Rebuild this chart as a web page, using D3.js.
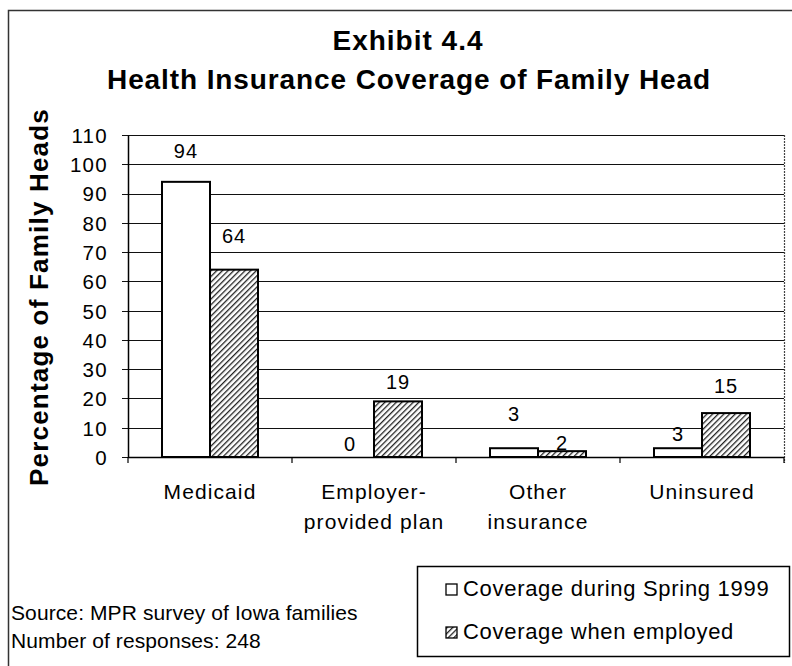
<!DOCTYPE html>
<html>
<head>
<meta charset="utf-8">
<script src="https://cdn.jsdelivr.net/npm/d3@7"></script>
<style>
  html, body { margin: 0; padding: 0; background: #fff; }
  svg { display: block; }
  text { font-family: "Liberation Sans", Arial, Helvetica, sans-serif; fill: #000; }
</style>
</head>
<body>
<svg id="chart" width="792" height="666"></svg>
<script>
// Health insurance coverage of family heads, Iowa families survey
const categories = [["Medicaid"], ["Employer-", "provided plan"], ["Other", "insurance"], ["Uninsured"]];
const seriesNames = ["Coverage during Spring 1999", "Coverage when employed"];
const spring1999 = [94, 0, 3, 3];
const whenEmployed = [64, 19, 2, 15];
const yTicks = [0, 10, 20, 30, 40, 50, 60, 70, 80, 90, 100, 110];
const titleLines = ["Exhibit 4.4", "Health Insurance Coverage of Family Head"];
const yTitle = "Percentage of Family Heads";
const noteLines = ["Source: MPR survey of Iowa families", "Number of responses: 248"];

// how far each value label sits above its bar top (px), per series
const labelLift = [[24, 6, 27, 7], [27, 12, 1, 20]];

const svg = d3.select("#chart");
const W = 792, H = 666;
const plot = { left: 128, right: 784, top: 135, bottom: 457 };

// hatch fill used for the "when employed" series
const defs = svg.append("defs");
const pat = defs.append("pattern")
  .attr("id", "hatch")
  .attr("patternUnits", "userSpaceOnUse")
  .attr("width", 4).attr("height", 4)
  .attr("patternTransform", "rotate(45)");
pat.append("rect").attr("width", 4).attr("height", 4).attr("fill", "#fff");
pat.append("rect").attr("x", 0).attr("y", 0).attr("width", 1.3).attr("height", 4).attr("fill", "#222");

// outer frame (left and top edges)
svg.append("path")
  .attr("d", `M8.5,${H} L8.5,10.5 L${W},10.5`)
  .attr("fill", "none").attr("stroke", "#333").attr("stroke-width", 1.5);

// titles
svg.append("text").attr("x", 408).attr("y", 50).attr("text-anchor", "middle")
  .style("font-size", "28px").style("font-weight", "bold").style("letter-spacing", "1px")
  .text(titleLines[0]);
svg.append("text").attr("x", 409).attr("y", 89).attr("text-anchor", "middle")
  .style("font-size", "28px").style("font-weight", "bold").style("letter-spacing", "0.9px")
  .text(titleLines[1]);

// scales
const y = d3.scaleLinear().domain([0, 110]).range([plot.bottom, plot.top]);
const x0 = d3.scaleBand().domain(d3.range(categories.length))
  .range([plot.left, plot.right]).paddingInner(0.4146).paddingOuter(0.2073);
const x1 = d3.scaleBand().domain(d3.range(seriesNames.length))
  .range([0, x0.bandwidth()]);
const step = x0.step();

// gridlines with short tick stubs to the left of the axis
const grid = svg.append("g");
grid.selectAll("line").data(yTicks).join("line")
  .attr("x1", plot.left - 6).attr("x2", plot.right)
  .attr("y1", d => Math.round(y(d)) + 0.5).attr("y2", d => Math.round(y(d)) + 0.5)
  .attr("stroke", "#111").attr("stroke-width", 1.1);

// plot frame right edge
svg.append("line")
  .attr("x1", plot.right + 0.5).attr("x2", plot.right + 0.5)
  .attr("y1", plot.top).attr("y2", plot.bottom + 6)
  .attr("stroke", "#444").attr("stroke-width", 1.2).attr("stroke-dasharray", "2,1");

// y axis
const yAxis = d3.axisLeft(y).tickValues(yTicks).tickSize(0).tickPadding(20);
const gy = svg.append("g").attr("transform", `translate(${plot.left},0)`).call(yAxis);
gy.select(".domain").attr("stroke", "#000").attr("stroke-width", 1.5);
gy.selectAll("text").style("font-size", "20.5px").style("letter-spacing", "1.3px")
  .style("font-family", "'Liberation Sans', Arial, sans-serif").attr("fill", "#000").attr("dy", "0.36em");

// x axis baseline with category boundary ticks
svg.append("line")
  .attr("x1", plot.left).attr("x2", plot.right)
  .attr("y1", plot.bottom + 0.5).attr("y2", plot.bottom + 0.5)
  .attr("stroke", "#000").attr("stroke-width", 1.5);
svg.append("g").selectAll("line")
  .data(d3.range(categories.length + 1)).join("line")
  .attr("x1", i => plot.left + i * step).attr("x2", i => plot.left + i * step)
  .attr("y1", plot.bottom).attr("y2", plot.bottom + 6)
  .attr("stroke", "#000").attr("stroke-width", 1.2);

// bars
const series = [spring1999, whenEmployed];
const fills = ["#fff", "url(#hatch)"];
const barData = [];
series.forEach((vals, s) => vals.forEach((v, c) => barData.push({ s, c, v })));

svg.append("g").selectAll("rect").data(barData.filter(d => d.v > 0)).join("rect")
  .attr("x", d => x0(d.c) + x1(d.s))
  .attr("y", d => y(d.v))
  .attr("width", x1.bandwidth())
  .attr("height", d => y(0) - y(d.v))
  .attr("fill", d => fills[d.s])
  .attr("stroke", "#000").attr("stroke-width", 2);

// value labels
svg.append("g").selectAll("text").data(barData).join("text")
  .attr("x", d => x0(d.c) + x1(d.s) + x1.bandwidth() / 2)
  .attr("y", d => y(d.v) - labelLift[d.s][d.c])
  .attr("text-anchor", "middle")
  .style("font-size", "20px").style("letter-spacing", "1px")
  .text(d => d.v);

// category labels
const cat = svg.append("g").selectAll("text").data(categories).join("text")
  .attr("x", (d, i) => x0(i) + x0.bandwidth() / 2)
  .attr("y", 499)
  .attr("text-anchor", "middle")
  .style("font-size", "21px").style("letter-spacing", "1.1px");
cat.selectAll("tspan").data(d => d).join("tspan")
  .attr("x", function () { return d3.select(this.parentNode).attr("x"); })
  .attr("dy", (d, i) => i === 0 ? 0 : 30)
  .text(d => d);

// y axis title
svg.append("text")
  .attr("transform", "translate(48,297) rotate(-90)")
  .attr("text-anchor", "middle")
  .style("font-size", "26px").style("font-weight", "bold").style("letter-spacing", "1.2px")
  .text(yTitle);

// source notes
svg.append("g").selectAll("text").data(noteLines).join("text")
  .attr("x", 11).attr("y", (d, i) => 620 + i * 28)
  .style("font-size", "21px").style("letter-spacing", "0.1px")
  .text(d => d);

// legend
const lg = svg.append("g");
lg.append("rect").attr("x", 417.5).attr("y", 566.5).attr("width", 372).attr("height", 90)
  .attr("fill", "#fff").attr("stroke", "#000").attr("stroke-width", 1.5);
const items = lg.selectAll("g").data(seriesNames).join("g")
  .attr("transform", (d, i) => `translate(446,${596 + i * 43})`);
items.append("rect").attr("x", 0).attr("y", -12).attr("width", 11).attr("height", 11)
  .attr("fill", (d, i) => fills[i]).attr("stroke", "#000").attr("stroke-width", 1.3);
items.append("text").attr("x", 17).attr("y", 0)
  .style("font-size", "22px").style("letter-spacing", "0.7px")
  .text(d => d);
</script>
</body>
</html>
